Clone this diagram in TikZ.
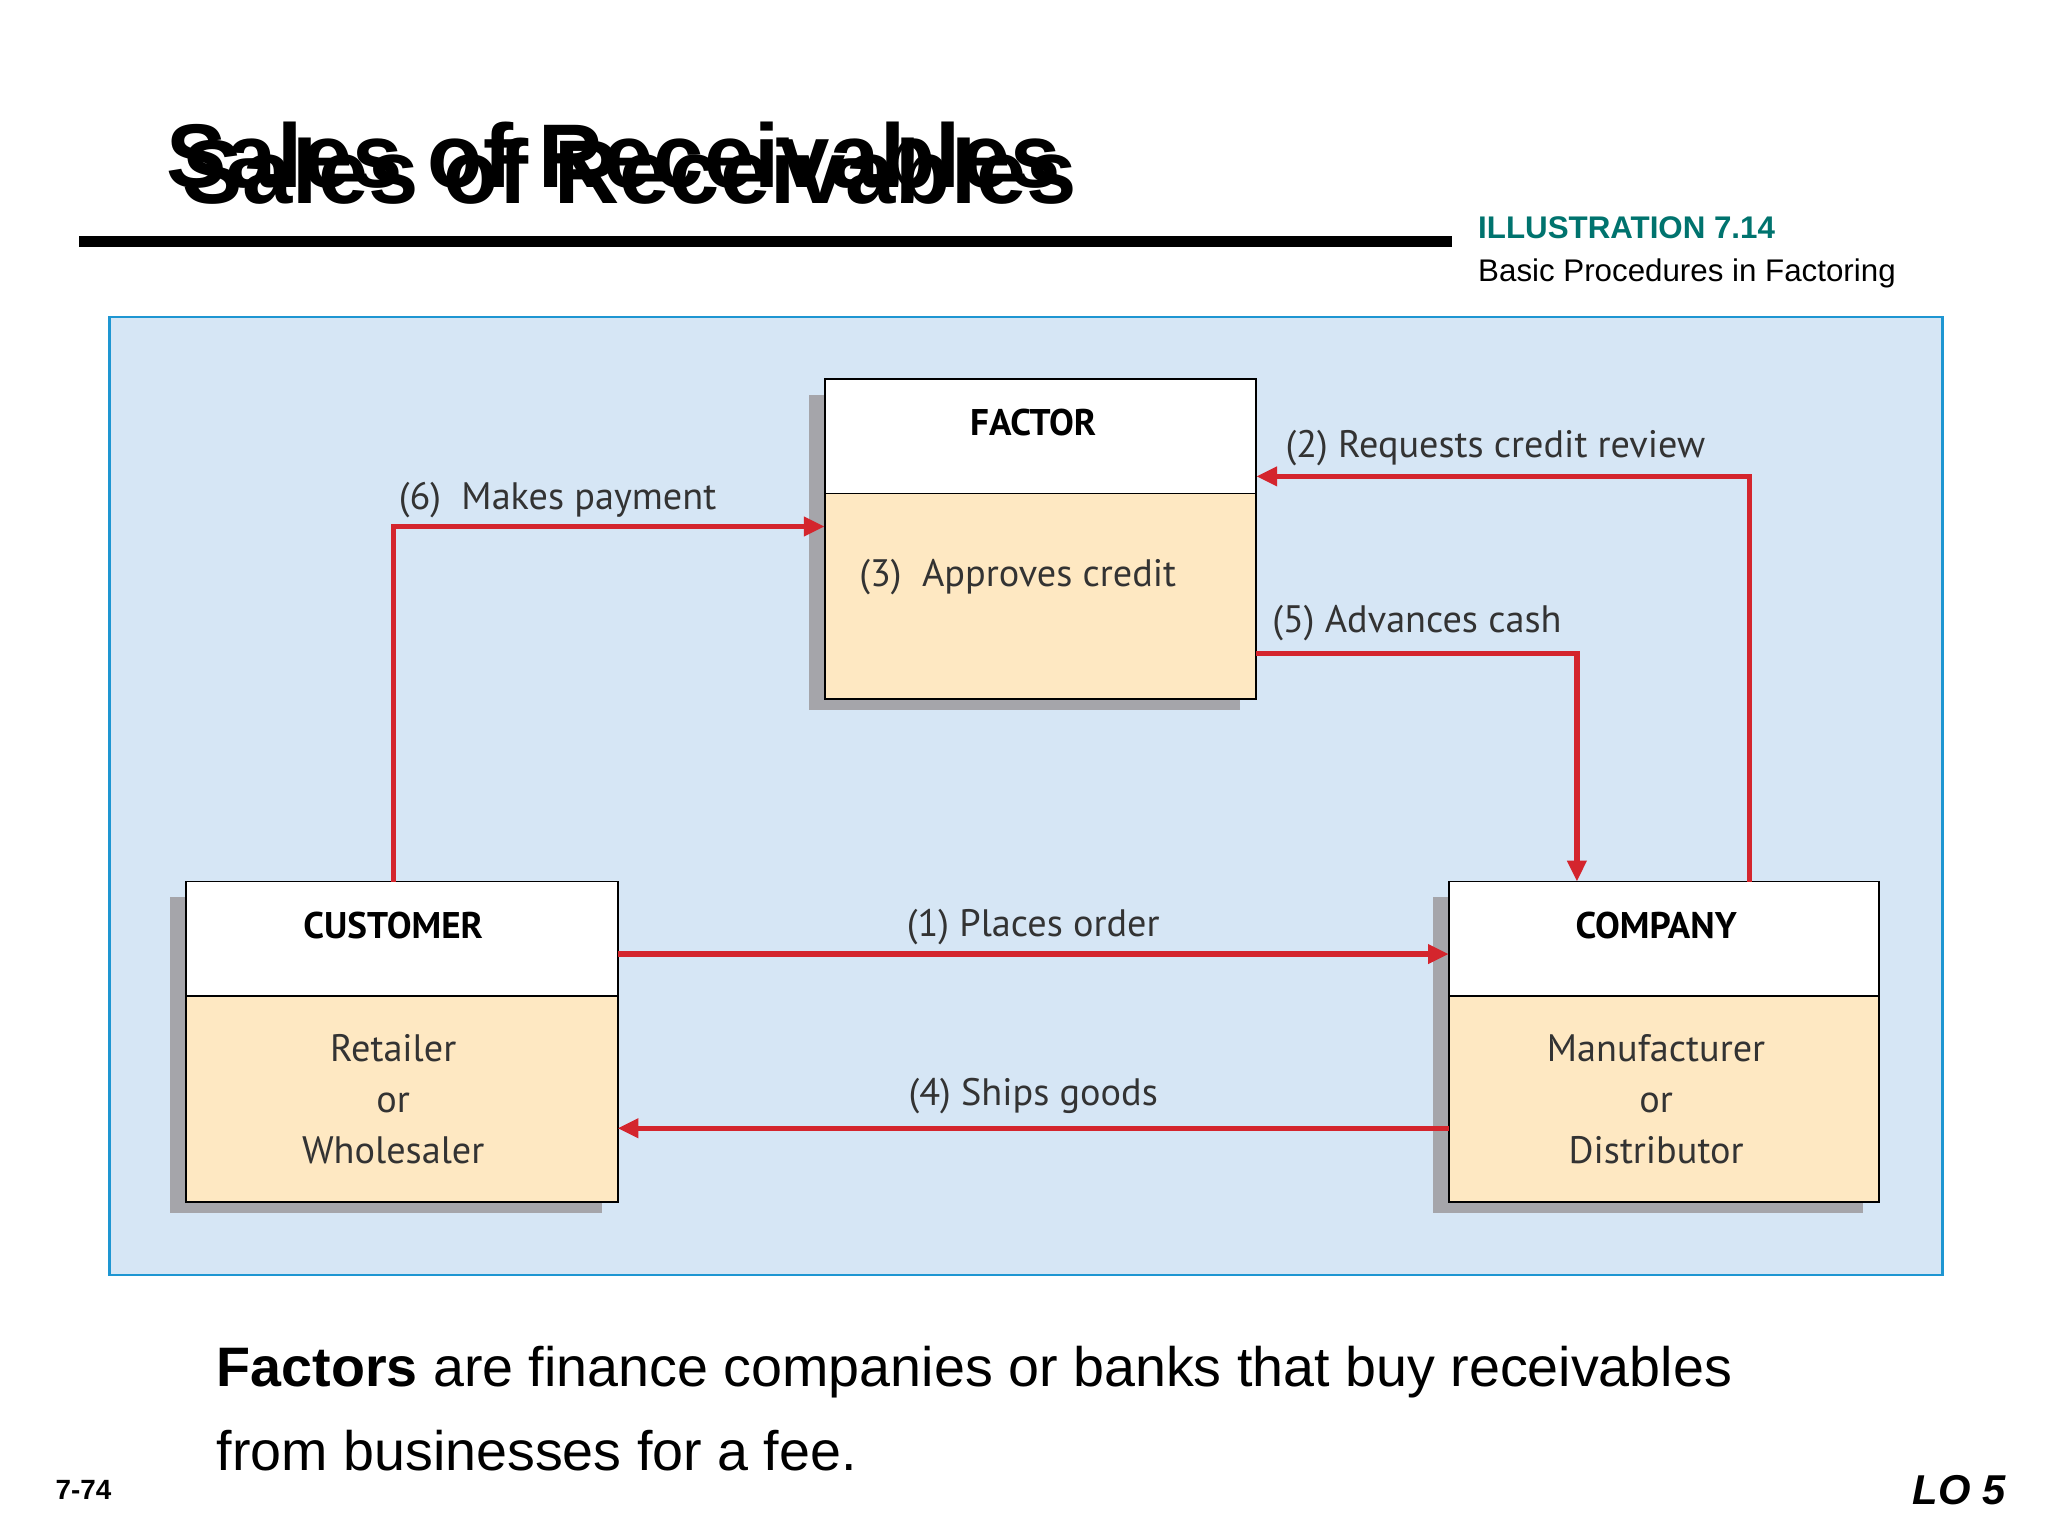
\documentclass[tikz,border=0pt]{standalone}
\usepackage{fontspec}
\setmainfont{Liberation Sans}
\newfontfamily\lab{PT Sans}
\usetikzlibrary{arrows.meta}
\definecolor{panel}{RGB}{214,230,245}
\definecolor{pborder}{RGB}{30,150,210}
\definecolor{cream}{RGB}{254,232,194}
\definecolor{ared}{RGB}{212,37,45}
\definecolor{teal}{RGB}{0,115,110}
\definecolor{shad}{RGB}{165,165,170}
\tikzset{
 lbl/.style={font=\lab\fontsize{16.5}{20}\selectfont, text=black!80},
 hdr/.style={font=\lab\bfseries\fontsize{16}{20}\selectfont},
 arr/.style={draw=ared, line width=2.3pt, -{Triangle[length=9pt,width=8pt]}},
 box/.style={draw=black, line width=0.8pt},
}
\begin{document}
\begin{tikzpicture}[x=0.02cm,y=-0.02cm]
\useasboundingbox (0,0) rectangle (1552,1164);
\fill[white] (0,0) rectangle (1552,1164);
% title (doubled)
\node[anchor=base west, font=\bfseries\fontsize{39}{44}\selectfont] (t1) at (120,142) {Sales of Receivables};
\node[anchor=base west, font=\bfseries\fontsize{39}{44}\selectfont] (t2) at (132,154) {Sales of Receivables};
\draw[line width=4.5pt] (60,183) -- (1100,183);
\node[anchor=base west, font=\bfseries\fontsize{13.5}{16}\selectfont, text=teal] (ill) at (1114,181) {ILLUSTRATION 7.14};
\node[anchor=base west, font=\fontsize{13.5}{16}\selectfont] (sub) at (1114,213) {Basic Procedures in Factoring};
% panel
\draw[fill=panel, draw=pborder, line width=1pt] (83,240) rectangle (1472,966);
% shadows
\fill[shad] (613,299) rectangle (940,538);
\fill[shad] (129,680) rectangle (456,919);
\fill[shad] (1086,680) rectangle (1412,919);
% FACTOR
\draw[box, fill=cream] (625,374) rectangle (952,530);
\draw[box, fill=white] (625,287) rectangle (952,374);
\node[hdr] (fh) at (783,320) {FACTOR};
\node[lbl, anchor=west] (fb) at (645,437) {(3)\ \ Approves credit};
% CUSTOMER
\draw[box, fill=cream] (141,755) rectangle (468,911);
\draw[box, fill=white] (141,668) rectangle (468,755);
\node[hdr] (ch) at (298,701) {CUSTOMER};
\node[lbl, align=center] (cb) at (298,833) {Retailer\\[2pt]or\\[2pt]Wholesaler};
% COMPANY
\draw[box, fill=cream] (1098,755) rectangle (1424,911);
\draw[box, fill=white] (1098,668) rectangle (1424,755);
\node[hdr] (mh) at (1255,701) {COMPANY};
\node[lbl, align=center] (mb) at (1255,833) {Manufacturer\\[2pt]or\\[2pt]Distributor};
% anchors
\coordinate (c6) at (298,668); \coordinate (f6) at (625,399);
\coordinate (m2) at (1326,668); \coordinate (f2) at (952,361);
\coordinate (f5) at (952,495); \coordinate (m5) at (1195,668);
\coordinate (c1) at (468,723); \coordinate (m1) at (1098,723);
\coordinate (m4) at (1098,855); \coordinate (c4) at (468,855);
\draw[arr] (c6) |- (f6);
\draw[arr] (m2) |- (f2);
\draw[arr] (f5) -| (m5);
\draw[arr] (c1) -- (m1);
\draw[arr] (m4) -- (c4);
\node[lbl, anchor=base west] (l6) at (296,386) {(6)\ \ Makes payment};
\node[lbl, anchor=base west] (l2) at (968,347) {(2) Requests credit review};
\node[lbl, anchor=base west] (l5) at (958,479) {(5) Advances cash};
\node[lbl, anchor=base] (l1) at (783,710) {(1) Places order};
\node[lbl, anchor=base] (l4) at (783,838) {(4) Ships goods};
% bottom text
\node[anchor=base west, font=\fontsize{24}{36}\selectfont] (ft) at (158,1051) {\textbf{Factors} are finance companies or banks that buy receivables};
\node[anchor=base west, font=\fontsize{24}{36}\selectfont] (ft2) at (158,1114) {from businesses for a fee.};
\node[anchor=base west, font=\bfseries\fontsize{12}{14}\selectfont] (pg) at (36,1136) {7-74};
\node[anchor=base east, font=\bfseries\itshape\fontsize{18}{20}\selectfont] (lo) at (1526,1140) {LO 5};
\end{tikzpicture}
\end{document}
